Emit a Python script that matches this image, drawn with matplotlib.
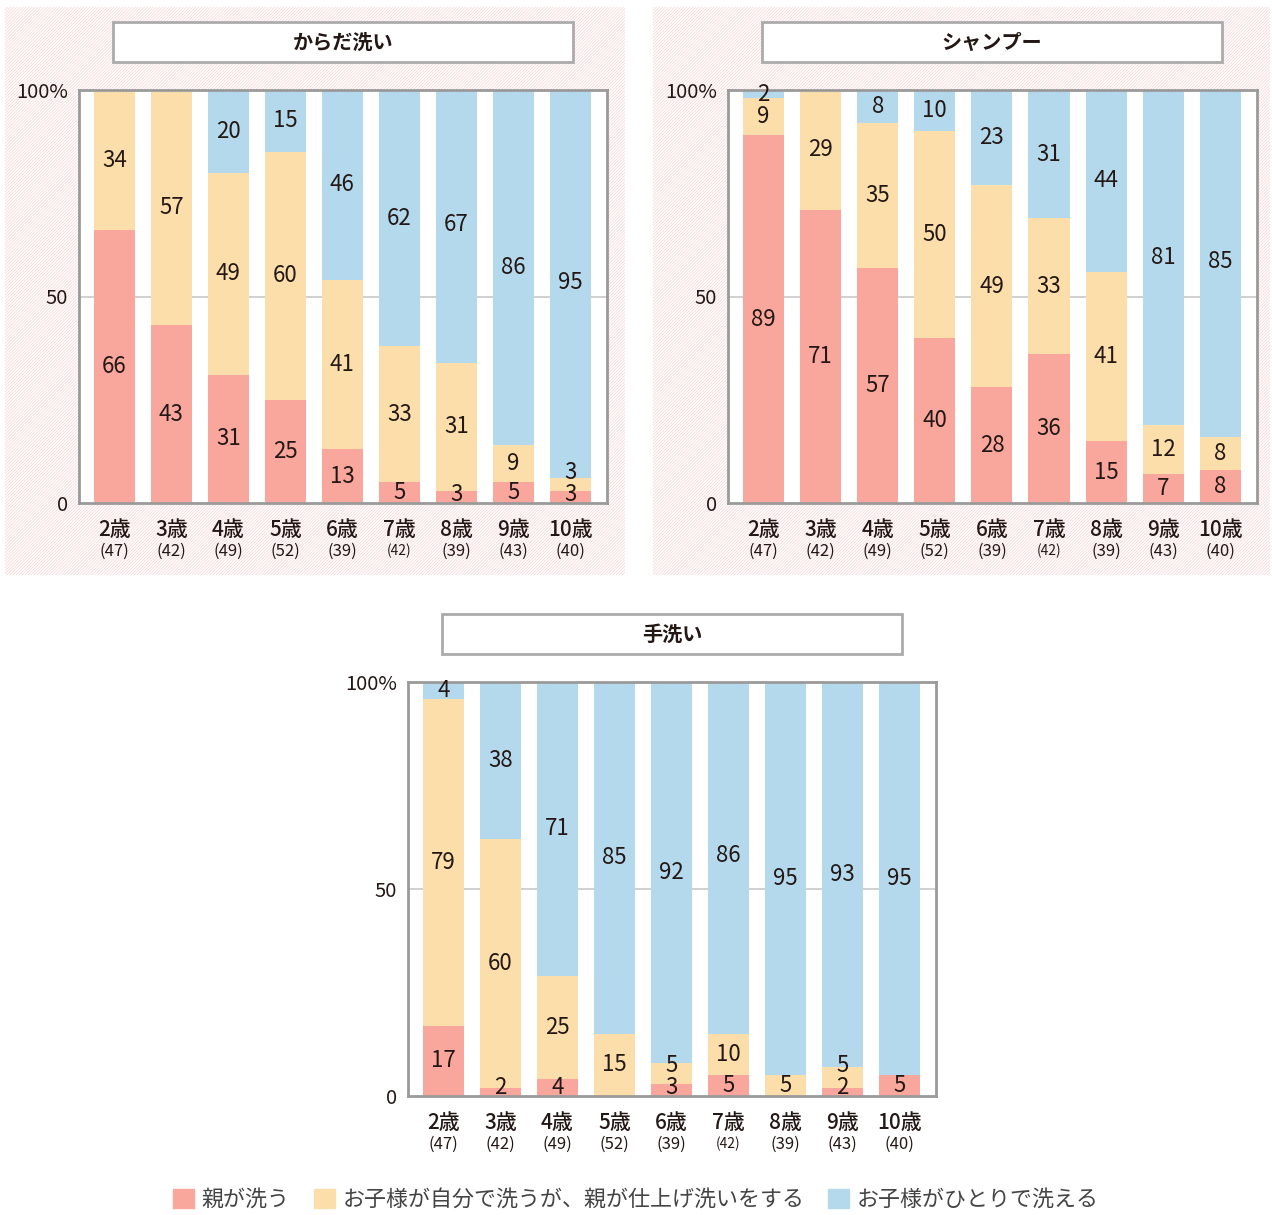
import numpy as np
import matplotlib
matplotlib.use("Agg")
import matplotlib.pyplot as plt
import matplotlib.patches as mpatches

plt.rcParams['font.family'] = ['Noto Sans CJK JP', 'DejaVu Sans']
plt.rcParams['hatch.linewidth'] = 0.6

W, H = 1272, 1215

ages = ["2歳", "3歳", "4歳", "5歳", "6歳", "7歳", "8歳", "9歳", "10歳"]
counts = ["(47)", "(42)", "(49)", "(52)", "(39)", "(42)", "(39)", "(43)", "(40)"]

series_names = ["親が洗う", "お子様が自分で洗うが、親が仕上げ洗いをする", "お子様がひとりで洗える"]
colors = ["#F9A69D", "#FCDEAB", "#B5D9EC"]

# からだ洗い
body_parent = [66, 43, 31, 25, 13, 5, 3, 5, 3]
body_finish = [34, 57, 49, 60, 41, 33, 31, 9, 3]
body_self = [0, 0, 20, 15, 46, 62, 67, 86, 95]

# シャンプー
shampoo_parent = [89, 71, 57, 40, 28, 36, 15, 7, 8]
shampoo_finish = [9, 29, 35, 50, 49, 33, 41, 12, 8]
shampoo_self = [2, 0, 8, 10, 23, 31, 44, 81, 85]

# 手洗い
hand_parent = [17, 2, 4, 0, 3, 5, 0, 2, 5]
hand_finish = [79, 60, 25, 15, 5, 10, 5, 5, 0]
hand_self = [4, 38, 71, 85, 92, 86, 95, 93, 95]

TEXT = "#231815"


def px_rect(x0, y0, x1, y1):
    return [x0 / W, 1 - y1 / H, (x1 - x0) / W, (y1 - y0) / H]


fig = plt.figure(figsize=(W / 100, H / 100), dpi=100)

# hatched backgrounds behind the two upper panels
for x0, x1 in [(5, 625), (653, 1270)]:
    r = mpatches.Rectangle((x0 / W, 1 - 575 / H), (x1 - x0) / W, (575 - 7) / H,
                           transform=fig.transFigure, facecolor="white",
                           edgecolor="#F8DADA", hatch="/" * 11, lw=0, zorder=-10)
    fig.patches.append(r)


def panel(box, title_box, title, parent, finish, selfw):
    ax = fig.add_axes(px_rect(*box))
    ax.set_facecolor("white")
    x = np.arange(len(ages))
    stacks = [np.array(parent), np.array(finish), np.array(selfw)]
    bottom = np.zeros(len(ages))
    prev_small = [None] * len(ages)
    for vals, c in zip(stacks, colors):
        ax.bar(x, vals, bottom=bottom, width=0.72, color=c, zorder=2)
        for i, (xi, b, v) in enumerate(zip(x, bottom, vals)):
            if v <= 0:
                continue
            y = max(b + v / 2, 2)
            # keep thin neighbouring segments' labels apart
            if v < 6 and prev_small[i] is not None:
                y = max(y, prev_small[i] + 5.4)
            ax.text(xi, y, str(v), ha="center", va="center",
                    fontsize=16, color=TEXT, zorder=3)
            prev_small[i] = y if v < 6 else None
        bottom = bottom + vals
    ax.axhline(50, color="#C8C8C8", lw=1.2, zorder=1)
    ax.set_xlim(-0.62, 8.64)
    ax.set_ylim(0, 100)
    ax.set_xticks([])
    ax.set_yticks([0, 50, 100])
    ax.set_yticklabels(["0", "50", "100%"], fontsize=14.5, color=TEXT)
    ax.tick_params(axis="y", length=0, pad=8)
    for s in ax.spines.values():
        s.set_color("#9A9A9A")
        s.set_linewidth(2)
    height = box[3] - box[1]
    for xi, a, n in zip(x, ages, counts):
        ax.text(xi, -27 / height, a, transform=ax.get_xaxis_transform(),
                ha="center", va="center", fontsize=15, fontweight="medium",
                color=TEXT)
        ax.text(xi, -48 / height, n, transform=ax.get_xaxis_transform(),
                ha="center", va="center", fontsize=12 if a != "7歳" else 10,
                color=TEXT)
    tx0, ty0, tx1, ty1 = title_box
    fig.patches.append(mpatches.Rectangle((tx0 / W, 1 - ty1 / H), (tx1 - tx0) / W,
                                          (ty1 - ty0) / H, transform=fig.transFigure,
                                          facecolor="white", edgecolor="#ABABAB",
                                          lw=2, zorder=5))
    fig.text((tx0 + tx1) / 2 / W, 1 - (ty0 + ty1) / 2 / H, title, ha="center",
             va="center", fontsize=14.5, fontweight="bold", color=TEXT, zorder=6)
    return ax


panel((79, 90, 607, 503), (113, 22, 573, 62), "からだ洗い",
      body_parent, body_finish, body_self)
panel((728, 90, 1257, 503), (762, 22, 1222, 62), "シャンプー",
      shampoo_parent, shampoo_finish, shampoo_self)
panel((408, 682, 936, 1096), (442, 614, 902, 654), "手洗い",
      hand_parent, hand_finish, hand_self)

handles = [mpatches.Patch(color=c, label=n) for c, n in zip(colors, series_names)]
fig.legend(handles=handles, loc="center", bbox_to_anchor=(0.5, 1 - 1200 / H),
           ncol=3, frameon=False, fontsize=15.8, handlelength=0.95,
           handleheight=0.95, handletextpad=0.35, columnspacing=1.1,
           labelcolor="#444444")

fig.savefig("out.png", dpi=100)
